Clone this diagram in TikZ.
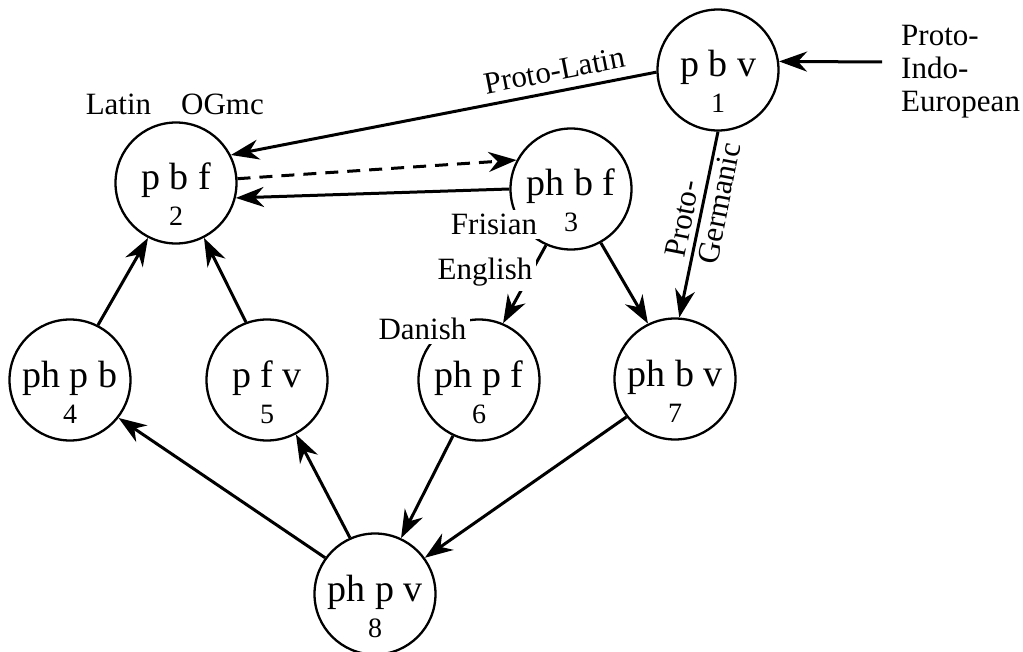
\documentclass[tikz,border=0pt]{standalone}
\usepackage{fontspec}
\setmainfont{Liberation Serif}
\usetikzlibrary{arrows.meta}

% a sound-state circle: name, centre, consonant triple, state number
\newcommand\soundstate[4]{%
  \node[state] (#1) at (#2) {};
  \node[maint] (#1t) at ([yshift=-7pt]#1.center) {#3};
  \node[numt] (#1n) at ([yshift=-43pt]#1.center) {#4};
}

\begin{document}
\begin{tikzpicture}[x=1pt,y=-1pt,
  state/.style={circle,draw,line width=2.3pt,minimum size=121pt,inner sep=0pt},
  maint/.style={font=\fontsize{38}{38}\selectfont,inner sep=0pt,anchor=base},
  numt/.style={font=\fontsize{28}{28}\selectfont,inner sep=0pt,anchor=base},
  lang/.style={font=\fontsize{31}{33}\selectfont,inner sep=0pt},
  mask/.style={lang,fill=white,inner sep=4pt,anchor=base},
  arr/.style={line width=3pt,-{Stealth[length=28pt,width=20pt,inset=9pt]}},
  dashline/.style={dash pattern=on 13pt off 9pt}]
\useasboundingbox (0,0) rectangle (1023,652);

\soundstate{n1}{718,70}{p b v}{1}
\soundstate{n2}{176,183}{p b f}{2}
\soundstate{n3}{571,189}{ph b f}{3}
\soundstate{n4}{70,380}{ph p b}{4}
\soundstate{n5}{267,380}{p f v}{5}
\soundstate{n6}{479,380}{ph p f}{6}
\soundstate{n7}{675,379}{ph b v}{7}
\soundstate{n8}{375,594}{ph p v}{8}

% entry from the parent language
\coordinate (pie) at (882,62);
\node[lang,align=left,anchor=north west] (pietext) at (901,25) {Proto-\\Indo-\\European};
\draw[arr] (pie) -- (n1.8);

% changes between states
\draw[arr] (n1.182) -- node[lang,sloped,above,inner sep=9pt,pos=0.23] (plat) {Proto-Latin} (n2.27);
\draw[arr,dashline] (n2.4) -- (n3.152);
\draw[arr] (n3.180) -- (n2.346);
\draw[arr] (n4.63) -- (n2.243);
\draw[arr] (n5.110) -- (n2.297);
\draw[arr] (n3.246) -- (n6.67);
\draw[arr] (n3.299) -- (n7.116);
\draw[arr] (n1.270) -- (n7.86);
\draw[arr] (n6.245) -- (n8.65);
\draw[arr] (n7.218) -- (n8.36);
\draw[arr] (n8.144) -- (n4.322);
\draw[arr] (n8.114) -- (n5.298);

\node[lang,align=left,rotate=79] (pgerm) at (703,200) {Proto-\\Germanic};

% language names
\node[lang,anchor=base] (latin) at (118.5,115) {Latin};
\node[lang,anchor=base] (ogmc) at (222.5,115) {OGmc};
\node[mask] (fris) at (494,235) {Frisian};
\node[mask] (engl) at (485,280) {English};
\node[mask] (dan) at (422.5,340) {Danish};
\end{tikzpicture}
\end{document}
